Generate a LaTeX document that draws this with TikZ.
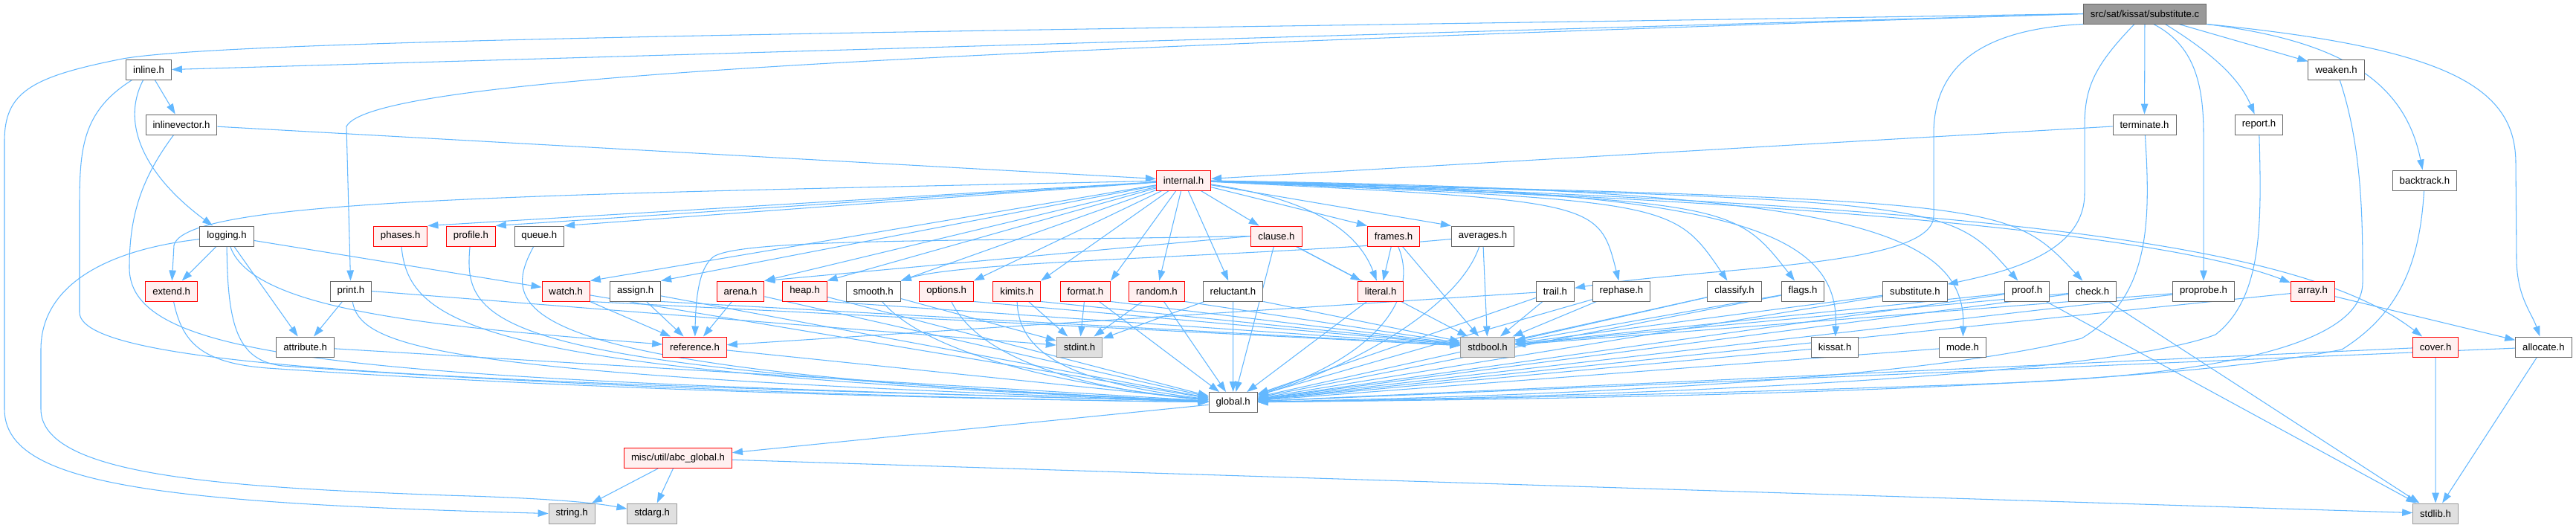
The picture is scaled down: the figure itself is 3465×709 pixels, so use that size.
\documentclass[tikz,border=0pt]{standalone}
\usepackage{fontspec}
\setmainfont{Liberation Sans}
\usepackage{xcolor}
\definecolor{depblue}{HTML}{63B8FF}
\definecolor{boxline}{HTML}{666666}
\definecolor{truncline}{HTML}{FF0000}
\definecolor{trunctint}{HTML}{FFF0F0}
\definecolor{sysline}{HTML}{999999}
\definecolor{systint}{HTML}{E0E0E0}
\definecolor{srcfill}{HTML}{999999}
\usepackage{tikz}
\usetikzlibrary{arrows.meta}
\pgfdeclarelayer{background}
\pgfsetlayers{background,main}

\begin{document}
\begin{tikzpicture}[x=0.2mm,y=-0.2mm,font=\fontsize{7.5}{9}\selectfont,
  hdr/.style={draw=boxline,fill=white,line width=0.55pt,minimum height=5.4mm,inner xsep=1.9mm,inner ysep=0pt},
  trunc/.style={hdr,draw=truncline,fill=trunctint},
  sys/.style={hdr,draw=sysline,fill=systint},
  srcfile/.style={hdr,fill=srcfill},
  dep/.style={depblue,line width=0.6pt,-{Triangle[length=2.8mm,width=1.9mm]}}]
  \useasboundingbox (0,0) rectangle (3465,709);
  % top
  \node[srcfile] (substc) at (2885,18.5) {src/sat/kissat/substitute.c};
  \node[hdr] (inl) at (200,93.5) {inline.h};
  \node[hdr] (weaken) at (3142.5,93.5) {weaken.h};
  \node[hdr] (inlvec) at (244,167.5) {inlinevector.h};
  \node[hdr] (terminate) at (2884.5,167.5) {terminate.h};
  \node[hdr] (report) at (3038.5,167.5) {report.h};
  \node[trunc] (internal) at (1592,242.5) {internal.h};
  \node[hdr] (backtrack) at (3261.4,242.5) {backtrack.h};
  % row 4
  \node[hdr] (logging) at (305,317.5) {logging.h};
  \node[trunc] (phases) at (538.7,317.5) {phases.h};
  \node[trunc] (profile) at (633.4,317.5) {profile.h};
  \node[hdr] (queue) at (725.3,317.5) {queue.h};
  \node[trunc] (clause) at (1717,317.5) {clause.h};
  \node[trunc] (frames) at (1874.6,317.5) {frames.h};
  \node[hdr] (averages) at (1994.5,317.5) {averages.h};
  % row 5
  \node[trunc] (extend) at (230.6,391.5) {extend.h};
  \node[hdr] (print) at (471.9,391.5) {print.h};
  \node[trunc] (watch) at (761.2,391.5) {watch.h};
  \node[hdr] (assign) at (854.6,391.5) {assign.h};
  \node[trunc] (arena) at (996,391.5) {arena.h};
  \node[trunc] (heap) at (1082.5,391.5) {heap.h};
  \node[hdr] (smooth) at (1174.6,391.5) {smooth.h};
  \node[trunc] (options) at (1273.1,391.5) {options.h};
  \node[trunc] (kimits) at (1367.8,391.5) {kimits.h};
  \node[trunc] (format) at (1459.9,391.5) {format.h};
  \node[trunc] (random) at (1555.9,391.5) {random.h};
  \node[hdr] (reluctant) at (1658.5,391.5) {reluctant.h};
  \node[trunc] (literal) at (1857.1,391.5) {literal.h};
  \node[hdr] (trail) at (2091.9,391.5) {trail.h};
  \node[hdr] (rephase) at (2181,391.5) {rephase.h};
  \node[hdr] (classify) at (2333,391.5) {classify.h};
  \node[hdr] (flags) at (2425,391.5) {flags.h};
  \node[hdr] (substh) at (2575.9,391.5) {substitute.h};
  \node[hdr] (proof) at (2726.6,391.5) {proof.h};
  \node[hdr] (check) at (2814.5,391.5) {check.h};
  \node[hdr] (proprobe) at (2964,391.5) {proprobe.h};
  \node[trunc] (array) at (3110.8,391.5) {array.h};
  % row 6
  \node[hdr] (attribute) at (410.6,466.5) {attribute.h};
  \node[trunc] (reference) at (934.5,466.5) {reference.h};
  \node[sys] (stdint) at (1452,466.5) {stdint.h};
  \node[sys] (stdbool) at (2001,466.5) {stdbool.h};
  \node[hdr] (kissat) at (2468.1,466.5) {kissat.h};
  \node[hdr] (mode) at (2640,466.5) {mode.h};
  \node[trunc] (cover) at (3276.1,466.5) {cover.h};
  \node[hdr] (allocate) at (3421.4,466.5) {allocate.h};
  % bottom
  \node[hdr] (global) at (1658.7,541) {global.h};
  \node[trunc] (abcglobal) at (912,616) {misc/util/abc\_global.h};
  \node[sys] (string) at (769.2,690.5) {string.h};
  \node[sys] (stdarg) at (877.2,690.5) {stdarg.h};
  \node[sys] (stdlib) at (3276,690.5) {stdlib.h};

  \begin{pgfonlayer}{background}
  \fill[white] (0,0) rectangle (3465,709);
  % substitute.c
  \draw[dep] (substc.west) -- (inl.east);
  \draw[dep] (substc.west) .. controls (1500,40) and (300,50) .. (160,80) .. controls (40,104) and (6,125) .. (6,190) -- (6,550) .. controls (6,650) and (200,676) .. (string.west);
  \draw[dep] (substc.west) .. controls (1200,70) and (500,105) .. (466,170) -- (print);
  \draw[dep] (substc.south west) .. controls (2650,40) and (2601,100) .. (2601,180) -- (2601,290) .. controls (2601,360) and (2300,358) .. (trail);
  \draw[dep] (substc.225) .. controls (2815,90) and (2804,120) .. (2804,170) -- (2804,260) .. controls (2804,340) and (2700,365) .. (substh);
  \draw[dep] (substc) -- (terminate);
  \draw[dep] (substc.310) .. controls (2950,60) and (2964,110) .. (2964,180) -- (proprobe);
  \draw[dep] (substc.333) .. controls (2965,65) and (3010,100) .. (report);
  \draw[dep] (substc.343) -- (weaken);
  \draw[dep] (substc.south east) .. controls (3150,55) and (3235,110) .. (backtrack);
  \draw[dep] (substc.south east) .. controls (3300,65) and (3384,120) .. (3384,220) -- (3385,350) .. controls (3386,400) and (3405,420) .. (allocate);
  % inline.h, inlinevector.h
  \draw[dep] (inl) -- (inlvec);
  \draw[dep] (inl) .. controls (160,170) and (200,240) .. (logging);
  \draw[dep] (inl) .. controls (110,150) and (107,200) .. (107,280) -- (107,420) .. controls (107,500) and (700,515) .. (global);
  \draw[dep] (inlvec) -- (internal);
  \draw[dep] (inlvec) .. controls (190,240) and (174,290) .. (174,360) .. controls (174,490) and (500,510) .. (global);
  % terminate.h, report.h, weaken.h, backtrack.h
  \draw[dep] (terminate) -- (internal);
  \draw[dep] (terminate) .. controls (2893,300) and (2892,400) .. (2800,455) .. controls (2600,505) and (2200,530) .. (global);
  \draw[dep] (report) .. controls (3042,300) and (3044,400) .. (2980,450) .. controls (2850,500) and (2300,532) .. (global);
  \draw[dep] (weaken) .. controls (3178,200) and (3178,300) .. (3178,380) .. controls (3178,470) and (2950,505) .. (2700,515) .. controls (2300,530) and (1900,538) .. (global);
  \draw[dep] (backtrack) .. controls (3255,350) and (3230,420) .. (3150,470) .. controls (2900,520) and (2300,535) .. (global);
  % logging.h
  \draw[dep] (logging) -- (extend);
  \draw[dep] (logging) -- (attribute);
  \draw[dep] (logging) -- (watch);
  \draw[dep] (logging) .. controls (340,420) and (600,440) .. (reference);
  \draw[dep] (logging) .. controls (306,440) and (320,485) .. (380,492) .. controls (800,522) and (1300,537) .. (global);
  \draw[dep] (logging) .. controls (150,335) and (55,380) .. (55,470) -- (55,550) .. controls (55,640) and (300,655) .. (600,666) .. controls (740,670) and (800,676) .. (stdarg);
  % internal.h
  \draw[dep] (internal) -- (phases.north east); \draw[dep] (internal) -- (profile.north east);
  \draw[dep] (internal) -- (queue.north east);
  \draw[dep] (internal) .. controls (700,262) and (248,268) .. (234,330) -- (extend);
  \draw[dep] (internal) -- (watch.north east); \draw[dep] (internal) -- (assign.north east);
  \draw[dep] (internal) -- (arena.north east); \draw[dep] (internal) -- (heap.north east);
  \draw[dep] (internal) -- (smooth.north east); \draw[dep] (internal) -- (options.north east);
  \draw[dep] (internal) -- (kimits.north east); \draw[dep] (internal) -- (format.north east);
  \draw[dep] (internal) -- (random); \draw[dep] (internal) -- (reluctant);
  \draw[dep] (internal) -- (clause);
  \draw[dep] (internal) .. controls (1780,270) and (1830,320) .. (literal);
  \draw[dep] (internal) -- (frames.north west); \draw[dep] (internal) -- (averages.north west);
  \draw[dep] (internal) .. controls (2150,270) .. (rephase);
  \draw[dep] (internal) .. controls (2250,270) .. (classify);
  \draw[dep] (internal) .. controls (2330,270) .. (flags);
  \draw[dep] (internal) .. controls (2300,255) and (2475,300) .. (kissat);
  \draw[dep] (internal) .. controls (2450,255) and (2645,300) .. (mode);
  \draw[dep] (internal) .. controls (2620,270) .. (proof);
  \draw[dep] (internal) .. controls (2700,270) .. (check);
  \draw[dep] (internal) .. controls (2600,275) and (2950,330) .. (array);
  \draw[dep] (internal) .. controls (2700,275) and (3100,330) .. (cover);
  % row 4
  \draw[dep] (phases) .. controls (550,440) and (650,500) .. (global);
  \draw[dep] (profile) .. controls (622,440) and (660,495) .. (global);
  \draw[dep] (queue) .. controls (670,420) and (680,500) .. (global);
  \draw[dep] (clause.west) -- (arena.north east);
  \draw[dep] (clause.west) .. controls (1300,325) and (1000,320) .. (960,345) .. controls (940,360) and (936,400) .. (reference);
  \draw[dep] (clause) -- (literal); \draw[dep] (clause) -- (global);
  \draw[dep] (clause) -- (stdbool);
  \draw[dep] (frames) -- (literal); \draw[dep] (frames) -- (stdbool);
  \draw[dep] (frames) .. controls (1910,400) and (1850,480) .. (global);
  \draw[dep] (averages) .. controls (1700,345) and (1300,350) .. (smooth.north east);
  \draw[dep] (averages) -- (stdbool);
  \draw[dep] (averages) .. controls (1960,420) and (1800,500) .. (global);
  % row 5, left part
  \draw[dep] (extend) .. controls (245,460) and (270,488) .. (360,495) .. controls (800,525) and (1300,537) .. (global);
  \draw[dep] (print) -- (attribute);
  \draw[dep] (print) .. controls (485,470) and (600,505) .. (global);
  \draw[dep] (print.east) -- (stdint);
  \draw[dep] (watch) -- (reference); \draw[dep] (watch) -- (global);
  \draw[dep] (watch.south east) -- (stdbool);
  \draw[dep] (assign) -- (reference); \draw[dep] (assign) -- (global);
  \draw[dep] (assign.south east) -- (stdbool);
  \draw[dep] (arena) -- (reference); \draw[dep] (arena) -- (global);
  \draw[dep] (heap) -- (global); \draw[dep] (heap.south east) -- (stdbool);
  \draw[dep] (smooth) -- (stdint);
  \draw[dep] (smooth) .. controls (1250,480) and (1450,520) .. (global);
  \draw[dep] (options.south east) -- (stdbool);
  \draw[dep] (options) .. controls (1320,490) and (1480,525) .. (global);
  \draw[dep] (kimits) -- (stdint); \draw[dep] (kimits.south east) -- (stdbool);
  \draw[dep] (kimits) .. controls (1370,480) and (1450,515) .. (global);
  \draw[dep] (format) -- (stdint); \draw[dep] (format) -- (global);
  \draw[dep] (format.south east) -- (stdbool);
  \draw[dep] (random) -- (stdint); \draw[dep] (random) -- (global);
  \draw[dep] (random.south east) -- (stdbool);
  \draw[dep] (reluctant) -- (stdint); \draw[dep] (reluctant) -- (global);
  \draw[dep] (reluctant.south east) -- (stdbool);
  \draw[dep] (literal) -- (global);
  % row 5, right part
  \draw[dep] (trail) -- (reference); \draw[dep] (trail) -- (stdbool);
  \draw[dep] (trail) -- (global);
  \draw[dep] (rephase) -- (stdbool); \draw[dep] (rephase) -- (global);
  \draw[dep] (classify) -- (stdbool); \draw[dep] (classify) -- (global);
  \draw[dep] (flags) -- (stdbool); \draw[dep] (flags) -- (global);
  \draw[dep] (substh) -- (stdbool); \draw[dep] (substh) -- (global);
  \draw[dep] (proof) -- (stdbool); \draw[dep] (proof) -- (global);
  \draw[dep] (proof) -- (stdlib);
  \draw[dep] (check) -- (stdbool); \draw[dep] (check) -- (global);
  \draw[dep] (check) -- (stdlib);
  \draw[dep] (proprobe) -- (stdbool); \draw[dep] (proprobe) -- (global);
  \draw[dep] (array) -- (allocate); \draw[dep] (array) -- (global);
  % row 6 and below
  \draw[dep] (attribute) -- (global);
  \draw[dep] (reference) -- (global);
  \draw[dep] (kissat) -- (global); \draw[dep] (mode) -- (global);
  \draw[dep] (cover) -- (stdlib); \draw[dep] (cover) -- (global);
  \draw[dep] (allocate) -- (stdlib); \draw[dep] (allocate) -- (global);
  \draw[dep] (global) -- (abcglobal);
  \draw[dep] (abcglobal) -- (string); \draw[dep] (abcglobal) -- (stdarg);
  \draw[dep] (abcglobal) -- (stdlib);
  \end{pgfonlayer}
\end{tikzpicture}
\end{document}
